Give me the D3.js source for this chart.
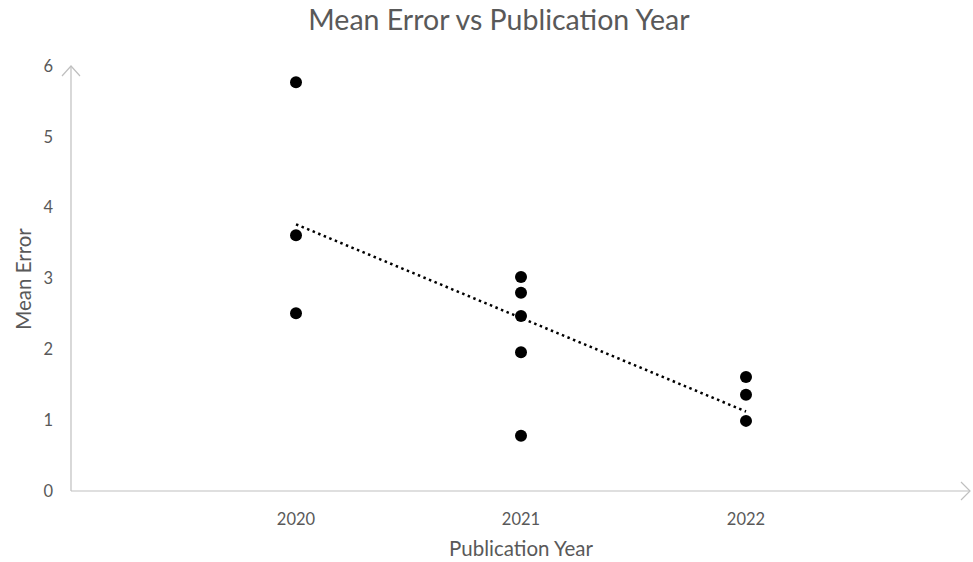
<!DOCTYPE html>
<html><head><meta charset="utf-8">
<script src="https://cdn.jsdelivr.net/npm/d3@7"></script>
<style>body{margin:0;background:#fff;} text{font-family:Lato, "Open Sans", sans-serif; fill:#595959;}</style>
</head><body>
<svg id="c" width="973" height="562"></svg>
<script>
const years = [2020,2020,2020,2021,2021,2021,2021,2021,2022,2022,2022];
const meanError = [5.77,3.61,2.51,3.02,2.80,2.47,1.96,0.78,1.61,1.36,0.99];
const xTicks = [2020,2021,2022];
const yTicks = [0,1,2,3,4,5,6];

const svg = d3.select('#c');
const x = d3.scaleLinear().domain([2019,2023]).range([71,971]);
const y = d3.scaleLinear().domain([0,6]).range([491,66]);
const axisColor = '#bfbfbf';

// axes lines
svg.append('line').attr('x1',x(2019)).attr('x2',x(2023)-2).attr('y1',y(0)).attr('y2',y(0)).attr('stroke',axisColor).attr('stroke-width',1.2);
svg.append('line').attr('x1',x(2019)).attr('x2',x(2019)).attr('y1',y(0)).attr('y2',y(6)).attr('stroke',axisColor).attr('stroke-width',1.2);
// arrows
svg.append('path').attr('d',`M${x(2023)-10},${y(0)-9} L${x(2023)-1},${y(0)} L${x(2023)-10},${y(0)+9}`).attr('fill','none').attr('stroke',axisColor).attr('stroke-width',1.2);
svg.append('path').attr('d',`M${x(2019)-9},${y(6)+10} L${x(2019)},${y(6)} L${x(2019)+9},${y(6)+10}`).attr('fill','none').attr('stroke',axisColor).attr('stroke-width',1.2);

// tick labels
svg.selectAll('.yt').data(yTicks).enter().append('text').attr('x',53).attr('y',d=>y(d)).attr('dy','0.35em').attr('text-anchor','end').attr('font-size',16.5).text(d=>d);
svg.selectAll('.xt').data(xTicks).enter().append('text').attr('x',d=>x(d)).attr('y',519).attr('dy','0.35em').attr('text-anchor','middle').attr('font-size',16.5).text(d=>d);

// titles
svg.append('text').attr('x',499).attr('y',20).attr('dy','0.35em').attr('text-anchor','middle').attr('font-size',28.5).text('Mean Error vs Publication Year');
svg.append('text').attr('x',521).attr('y',549).attr('dy','0.35em').attr('text-anchor','middle').attr('font-size',20.5).text('Publication Year');
svg.append('text').attr('transform','translate(24,279) rotate(-90)').attr('dy','0.35em').attr('text-anchor','middle').attr('font-size',20.5).text('Mean Error');

// trendline (least squares)
const mx = d3.mean(years), my = d3.mean(meanError);
const slope = d3.sum(years.map((v,i)=>(v-mx)*(meanError[i]-my))) / d3.sum(years.map(v=>(v-mx)*(v-mx)));
const f = v => my + slope*(v-mx);
svg.append('line').attr('x1',x(2020)).attr('y1',y(f(2020))).attr('x2',x(2022)).attr('y2',y(f(2022)))
  .attr('stroke','#000').attr('stroke-width',2.5).attr('stroke-dasharray','2.5,3.5');

// points
svg.selectAll('.pt').data(years).enter().append('circle')
  .attr('cx',d=>x(d)).attr('cy',(d,i)=>y(meanError[i])).attr('r',6).attr('fill','#000');
</script>
</body></html>
